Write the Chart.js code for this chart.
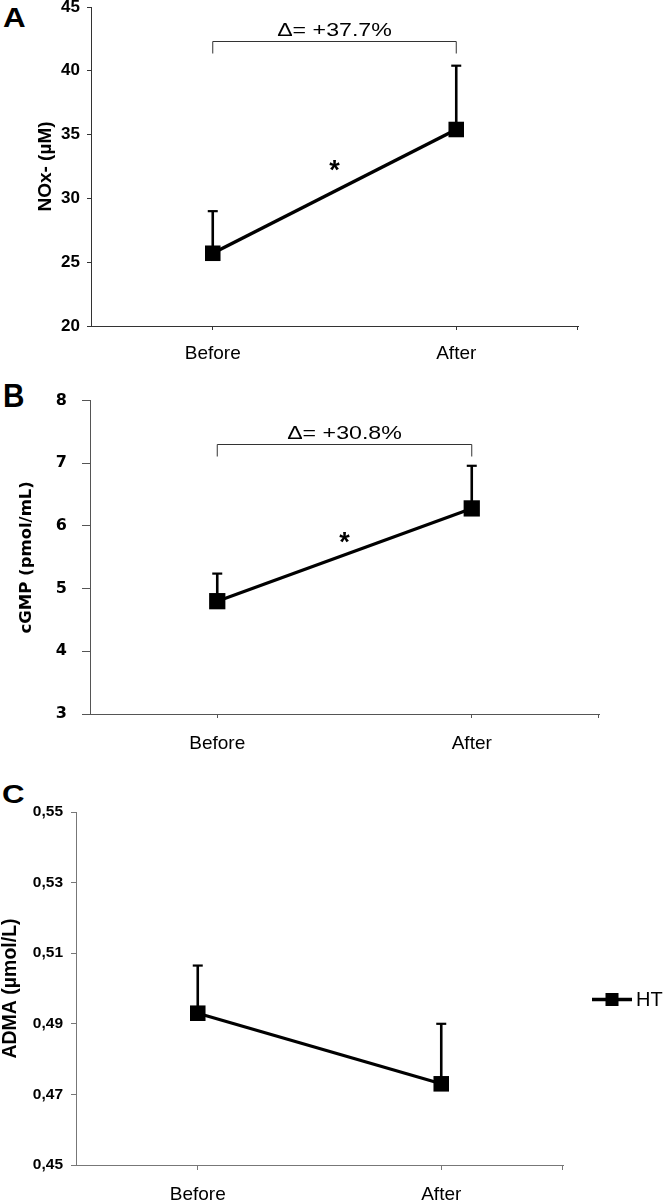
<!DOCTYPE html>
<html><head><meta charset="utf-8">
<script src="https://cdn.jsdelivr.net/npm/chart.js@4.4.1/dist/chart.umd.min.js"></script>
<style>
html,body{margin:0;padding:0;background:#fff;overflow:hidden;width:664px;height:1203px;position:relative;}
.panel{position:absolute;left:0;width:664px;}
.letter{position:absolute;font-family:"Liberation Sans",Arial,sans-serif;font-weight:bold;color:#000;line-height:1;transform-origin:0 0;}
</style></head><body>
<div class="letter" style="left:3px;top:4px;font-size:28px;transform:scaleX(1.12)">A</div>
<div class="letter" style="left:3px;top:379px;font-size:33px;transform:scaleX(0.9)">B</div>
<div class="letter" style="left:2px;top:781px;font-size:26px;transform:scaleX(1.2)">C</div>
<div class="panel" style="top:-13px;height:379px"><canvas id="cA" width="664" height="379"></canvas></div>
<div class="panel" style="top:376px;height:383px"><canvas id="cB" width="664" height="383"></canvas></div>
<div class="panel" style="top:792px;height:423px"><canvas id="cC" width="664" height="423"></canvas></div>
<script>
// ---- data ----
const categories = ['Before', 'After'];
const seriesName = 'HT';

const noxValues = [25.7, 35.4];
const noxErrors = [3.3, 5.0];
const noxTicks = [20, 25, 30, 35, 40, 45];

const cgmpValues = [4.8, 6.28];
const cgmpErrors = [0.44, 0.68];
const cgmpTicks = [3, 4, 5, 6, 7, 8];

const admaValues = [0.493, 0.473];
const admaErrors = [0.0135, 0.017];
const admaTicks = [0.45, 0.47, 0.49, 0.51, 0.53, 0.55];

const deltaLabels = ['Δ= +37.7%', 'Δ= +30.8%'];
const bracketLevels = [42.3, 7.3];
const starLevels = [32.7, 5.85];
const axisTitles = ['NOx- (µM)', 'cGMP (pmol/mL)', 'ADMA (µmol/L)'];

// ---- plugin for error bars, brackets, stars, legend, end tick ----
const extras = {
  id: 'extras',
  beforeDatasetsDraw(chart, args, o) {
    const ctx = chart.ctx, x = chart.scales.x, y = chart.scales.y;
    const ds = chart.data.datasets[0];
    ctx.save();
    ctx.strokeStyle = '#000';
    ds.data.forEach((v, i) => {
      const px = x.getPixelForValue(i);
      const p0 = y.getPixelForValue(v);
      const p1 = y.getPixelForValue(v + o.errors[i]);
      ctx.lineWidth = 2.6;
      ctx.beginPath(); ctx.moveTo(px, p0); ctx.lineTo(px, p1); ctx.stroke();
      ctx.lineWidth = 2.2;
      ctx.beginPath(); ctx.moveTo(px - o.capHalf, p1); ctx.lineTo(px + o.capHalf, p1); ctx.stroke();
    });
    ctx.restore();
  },
  afterDraw(chart, args, o) {
    const ctx = chart.ctx, x = chart.scales.x, y = chart.scales.y, ca = chart.chartArea;
    ctx.save();
    // right-end tick of the x axis
    ctx.strokeStyle = o.axisColor; ctx.lineWidth = 1;
    ctx.beginPath(); ctx.moveTo(Math.round(ca.right) - 0.5, ca.bottom); ctx.lineTo(Math.round(ca.right) - 0.5, ca.bottom + o.tick); ctx.stroke();
    const x0 = x.getPixelForValue(0), x1 = x.getPixelForValue(1);
    if (o.delta) {
      const by = Math.round(y.getPixelForValue(o.bracket)) + 0.5;
      ctx.strokeStyle = '#333'; ctx.lineWidth = 1;
      ctx.beginPath();
      ctx.moveTo(x0, by + o.drop); ctx.lineTo(x0, by); ctx.lineTo(x1, by); ctx.lineTo(x1, by + o.drop);
      ctx.stroke();
      ctx.fillStyle = '#000';
      ctx.font = '19px "Liberation Sans", Arial, sans-serif';
      ctx.textAlign = 'center'; ctx.textBaseline = 'alphabetic';
      ctx.translate((x0 + x1) / 2, by - 6);
      ctx.scale(1.22, 1);
      ctx.fillText(o.delta, 0, 0);
      ctx.setTransform(1, 0, 0, 1, 0, 0);
      const sy = y.getPixelForValue(o.star);
      ctx.font = 'bold 27px "Liberation Sans", Arial, sans-serif';
      ctx.fillText('*', (x0 + x1) / 2, sy + 0.57 * 27);
    }
    if (o.legend) {
      const ds = chart.data.datasets[0];
      const lx = ca.right + 29, ly = (ca.top + ca.bottom) / 2 + 11;
      ctx.strokeStyle = ds.borderColor; ctx.lineWidth = 3.5;
      ctx.beginPath(); ctx.moveTo(lx, ly); ctx.lineTo(lx + 40, ly); ctx.stroke();
      ctx.fillStyle = ds.pointBackgroundColor;
      ctx.fillRect(lx + 20 - 6.5, ly - 6.5, 13, 13);
      ctx.font = '20px "Liberation Sans", Arial, sans-serif';
      ctx.textAlign = 'left'; ctx.textBaseline = 'middle';
      ctx.fillText(ds.label, lx + 44, ly + 1);
    }
    ctx.restore();
  }
};

function makeChart(id, p) {
  return new Chart(document.getElementById(id), {
    type: 'line',
    data: {
      labels: categories,
      datasets: [{
        label: seriesName,
        data: p.values,
        borderColor: '#000',
        borderWidth: p.lineWidth,
        pointStyle: 'rect',
        pointRadius: p.pointR,
        pointBackgroundColor: '#000',
        pointBorderColor: '#000',
        pointBorderWidth: 0,
        tension: 0,
        clip: false
      }]
    },
    options: {
      responsive: false,
      animation: false,
      events: [],
      layout: { padding: { left: 0, top: 20, right: p.padRight, bottom: 0 } },
      plugins: {
        legend: { display: false },
        tooltip: { enabled: false },
        extras: {
          errors: p.errors, capHalf: 5, axisColor: p.axisColor, tick: p.xTick,
          delta: p.delta, bracket: p.bracket, drop: 12, star: p.star, legend: p.legend
        }
      },
      scales: {
        x: {
          type: 'category',
          offset: true,
          afterFit: s => { s.height = p.xHeight; },
          border: { display: true, color: p.axisColor, width: 1 },
          grid: { display: true, drawOnChartArea: false, drawTicks: true, tickLength: p.xTick, color: p.axisColor, offset: false },
          ticks: { color: '#000', padding: p.xPad, font: { family: '"Liberation Sans", Arial, sans-serif', size: 19 } }
        },
        y: {
          min: p.ticks[0], max: p.ticks[p.ticks.length - 1],
          afterFit: s => { s.width = p.left; },
          afterBuildTicks: s => { s.ticks = p.ticks.map(v => ({ value: v })); },
          border: { display: true, color: p.axisColor, width: 1 },
          grid: { display: true, drawOnChartArea: false, drawTicks: true, tickLength: p.yTick, color: p.axisColor },
          ticks: {
            color: '#000', padding: p.yPad,
            font: { family: p.tickFamily, size: p.tickSize, weight: 'bold' },
            callback: p.fmt
          },
          title: {
            display: true, text: p.title, color: '#000',
            font: { family: p.titleFamily, size: p.titleSize, weight: 'bold', lineHeight: 1 },
            padding: { top: p.titlePad, bottom: 0 }
          }
        }
      }
    },
    plugins: [extras]
  });
}

const arial = '"Liberation Sans", Arial, sans-serif';
const dejavu = '"DejaVu Sans", Verdana, sans-serif';

makeChart('cA', {
  values: noxValues, errors: noxErrors, ticks: noxTicks, title: axisTitles[0],
  fmt: v => String(v), lineWidth: 3.5, pointR: 11,
  padRight: 86, left: 91, xHeight: 40, xTick: 4, xPad: 12, yTick: 4, yPad: 7,
  axisColor: '#333', tickFamily: arial, tickSize: 17, titleFamily: arial, titleSize: 19, titlePad: 36,
  delta: deltaLabels[0], bracket: bracketLevels[0], star: starLevels[0], legend: false
});
makeChart('cB', {
  values: cgmpValues, errors: cgmpErrors, ticks: cgmpTicks, title: axisTitles[1],
  fmt: v => String(v), lineWidth: 3.2, pointR: 11.5,
  padRight: 65, left: 90, xHeight: 45, xTick: 4, xPad: 14, yTick: 8, yPad: 15,
  axisColor: '#555', tickFamily: dejavu, tickSize: 16, titleFamily: dejavu, titleSize: 16.5, titlePad: 18,
  delta: deltaLabels[1], bracket: bracketLevels[1], star: starLevels[1], legend: false
});
makeChart('cC', {
  values: admaValues, errors: admaErrors, ticks: admaTicks, title: axisTitles[2],
  fmt: v => v.toFixed(2).replace('.', ','), lineWidth: 3.2, pointR: 11,
  padRight: 101, left: 76, xHeight: 50, xTick: 5, xPad: 13, yTick: 5, yPad: 8,
  axisColor: '#777', tickFamily: arial, tickSize: 15.5, titleFamily: arial, titleSize: 19.5, titlePad: 1,
  delta: null, legend: true
});
</script>
</body></html>
